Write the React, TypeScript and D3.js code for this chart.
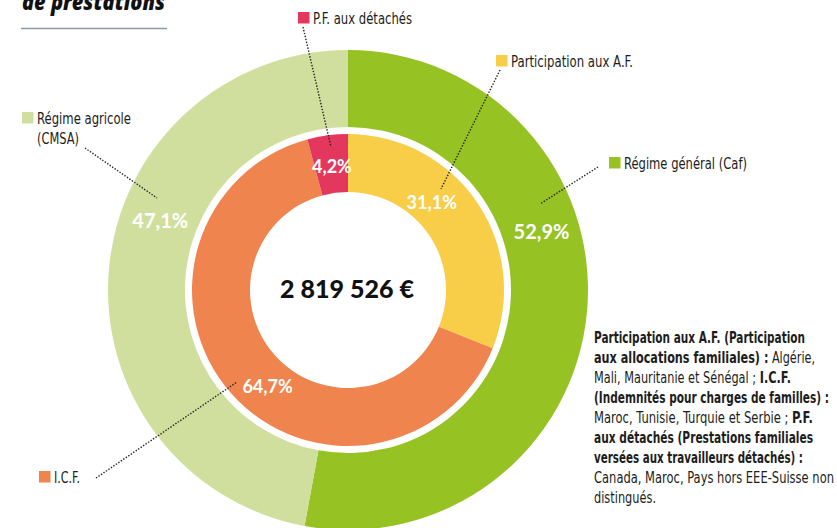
import React from "react";
import * as d3 from "d3";

// ---- data ----
const outerCategories = ["Régime général (Caf)", "Régime agricole (CMSA)"];
const outerValues = [52.9, 47.1];
const innerCategories = ["Participation aux A.F.", "I.C.F.", "P.F. aux détachés"];
const innerValues = [31.1, 64.7, 4.2];
const totalLabel = "2 819 526 €";
const titleText = "de prestations";
const noteLines: [string, boolean][][] = [
  [["Participation aux A.F. (Participation", true]],
  [["aux allocations familiales) :", true], [" Algérie,", false]],
  [["Mali, Mauritanie et Sénégal ; ", false], ["I.C.F.", true]],
  [["(Indemnités pour charges de familles) :", true]],
  [["Maroc, Tunisie, Turquie et Serbie ; ", false], ["P.F.", true]],
  [["aux détachés (Prestations familiales", true]],
  [["versées aux travailleurs détachés) :", true]],
  [["Canada, Maroc, Pays hors EEE-Suisse non", false]],
  [["distingués.", false]],
];

// ---- layout / style (not data) ----
const W = 837, H = 528;
const cx = 348, cy = 290;
const outerR = [163, 240];
const innerR = [98, 156];
const outerColors = ["#96c223", "#d0df9e"];
const innerColors = ["#f8cd48", "#f0844e", "#e3375e"];
const outerLabelPos = [{ a: 73.3, r: 202, fs: 20 }, { a: 290.2, r: 200, fs: 20 }];
const innerLabelPos = [{ a: 43.8, r: 121, fs: 18 }, { a: 219.8, r: 125.7, fs: 18 }, { a: -7.4, r: 124.5, fs: 18 }];
const outerLegend = [
  { x: 609, y: 157, lines: ["Régime général (Caf)"], widths: [123], line: [[598, 167], [540, 204]] },
  { x: 22, y: 112, lines: ["Régime agricole", "(CMSA)"], widths: [94, 42], line: [[85, 148], [157, 198]] },
];
const innerLegend = [
  { x: 496, y: 55, lines: ["Participation aux A.F."], widths: [122], line: [[500, 70], [441, 189]] },
  { x: 39, y: 471, lines: ["I.C.F."], widths: [26], line: [[96, 478], [237, 382]] },
  { x: 298, y: 12, lines: ["P.F. aux détachés"], widths: [99], line: [[303, 27], [331, 147]] },
];
const noteWidths = [211, 221, 197, 235, 219, 219, 209, 240, 62];
const condensed = "'Liberation Sans Narrow', 'DejaVu Sans Condensed', 'Roboto', sans-serif";
const ink = "#1d1d1b";

function polar(aDeg: number, r: number) {
  const a = (aDeg * Math.PI) / 180;
  return [cx + r * Math.sin(a), cy - r * Math.cos(a)];
}

function fmt(v: number) {
  return d3.format(".1f")(v).replace(".", ",") + "%";
}

export default function App() {
  const pie = d3.pie<number>().sort(null).value((d) => d);
  const outerArcs = pie(outerValues);
  const innerArcs = pie(innerValues);
  const outerArc = d3.arc<d3.PieArcDatum<number>>().innerRadius(outerR[0]).outerRadius(outerR[1]);
  const innerArc = d3.arc<d3.PieArcDatum<number>>().innerRadius(innerR[0]).outerRadius(innerR[1]);

  const legend = (items: typeof outerLegend, colors: string[], cats: string[]) =>
    items.map((it, i) => (
      <g key={cats[i]}>
        <line x1={it.line[0][0]} y1={it.line[0][1]} x2={it.line[1][0]} y2={it.line[1][1]}
          stroke="#222" strokeWidth={1.4} strokeDasharray="1.4 1.6" />
        <rect x={it.x} y={it.y} width={11.5} height={11.5} fill={colors[i]} />
        {it.lines.map((ln, j) => (
          <text key={j} x={it.x + 15} y={it.y + 11.5 + j * 20} fontFamily={condensed} fontSize={15.5}
            fill={ink} textLength={it.widths[j]} lengthAdjust="spacingAndGlyphs">{ln}</text>
        ))}
      </g>
    ));

  return (
    <svg width={W} height={H} style={{ position: "absolute", left: 0, top: 0, background: "#fff" }}>
      <text x={22} y={10} fontFamily="'Open Sans', sans-serif" fontWeight={800} fontStyle="italic"
        fontSize={22} fill="#111" textLength={143} lengthAdjust="spacingAndGlyphs">{titleText}</text>
      <line x1={21} x2={167} y1={28.5} y2={28.5} stroke="#8d9aa6" strokeWidth={1.5} />

      <g transform={`translate(${cx},${cy})`}>
        {outerArcs.map((a, i) => (
          <path key={outerCategories[i]} d={outerArc(a) || ""} fill={outerColors[i]} />
        ))}
        {innerArcs.map((a, i) => (
          <path key={innerCategories[i]} d={innerArc(a) || ""} fill={innerColors[i]} />
        ))}
      </g>

      {legend(outerLegend, outerColors, outerCategories)}
      {legend(innerLegend, innerColors, innerCategories)}

      {outerValues.map((v, i) => {
        const p = outerLabelPos[i];
        const [x, y] = polar(p.a, p.r);
        return (
          <text key={"ol" + i} x={x} y={y + p.fs * 0.36} textAnchor="middle" fontFamily="Lato, sans-serif"
            fontWeight={700} fontSize={p.fs} fill="#fff">{fmt(v)}</text>
        );
      })}
      {innerValues.map((v, i) => {
        const p = innerLabelPos[i];
        const [x, y] = polar(p.a, p.r);
        return (
          <text key={"il" + i} x={x} y={y + p.fs * 0.36} textAnchor="middle" fontFamily="Lato, sans-serif"
            fontWeight={700} fontSize={p.fs} fill="#fff">{fmt(v)}</text>
        );
      })}

      <text x={347} y={298} textAnchor="middle" fontFamily="Lato, sans-serif" fontWeight={900}
        fontSize={25} fill="#111">{totalLabel}</text>

      {noteLines.map((segs, i) => (
        <text key={"n" + i} x={594} y={343.3 + i * 20} fontFamily={condensed} fontSize={15.5} fill={ink}
          textLength={noteWidths[i]} lengthAdjust="spacingAndGlyphs">
          {segs.map(([s, b], j) => (
            <tspan key={j} fontWeight={b ? 700 : 400}>{s}</tspan>
          ))}
        </text>
      ))}
    </svg>
  );
}
